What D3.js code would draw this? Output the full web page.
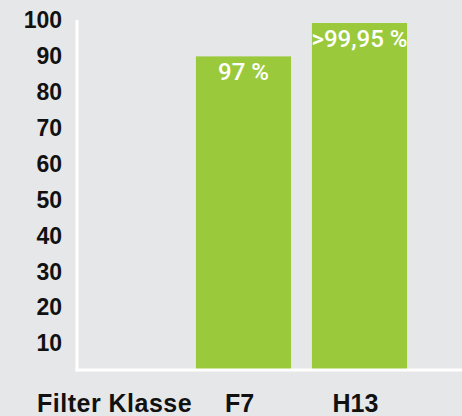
<!DOCTYPE html>
<html>
<head>
<meta charset="utf-8">
<script src="https://cdn.jsdelivr.net/npm/d3@7"></script>
<style>
  html, body { margin: 0; padding: 0; background: #e6e7e9; }
  svg { display: block; }
</style>
</head>
<body>
<script>
var categories = ["F7", "H13"];
var values = [90, 99.3];
var valueLabels = ["97 %", ">99,95 %"];
var yTicks = [10, 20, 30, 40, 50, 60, 70, 80, 90, 100];
var axisTitle = "Filter Klasse";

var width = 462;
var height = 416;
var plotLeft = 77;
var plotTop = 20;
var plotBottom = 370;

var svg = d3.select("body").append("svg")
    .attr("width", width)
    .attr("height", height);

svg.append("rect")
    .attr("width", width)
    .attr("height", height)
    .attr("fill", "#e6e7e9");

var x = d3.scaleBand()
    .domain(categories)
    .range([185.5, 417.5])
    .paddingInner(0.18)
    .paddingOuter(0.09);

var y = d3.scaleLinear()
    .domain([0, 100])
    .range([379.4, 20.5]);

// bars
svg.append("g")
  .selectAll("rect")
  .data(categories)
  .enter()
  .append("rect")
    .attr("x", d => x(d))
    .attr("width", x.bandwidth())
    .attr("y", (d, i) => y(values[i]))
    .attr("height", (d, i) => plotBottom - y(values[i]))
    .attr("fill", "#9aca3c");

// value labels inside bars
svg.append("g")
    .attr("text-anchor", "middle")
    .attr("font-family", "Roboto, 'Liberation Sans', sans-serif")
    .attr("font-size", 24)
    .attr("font-weight", 500)
    .attr("fill", "#ffffff")
  .selectAll("text")
  .data(categories)
  .enter()
  .append("text")
    .attr("x", d => x(d) + x.bandwidth() / 2)
    .attr("y", (d, i) => y(values[i]) + 24)
    .text((d, i) => valueLabels[i]);

// white axis lines
svg.append("line")
    .attr("x1", plotLeft).attr("x2", plotLeft)
    .attr("y1", plotTop).attr("y2", plotBottom + 1.5)
    .attr("stroke", "#ffffff")
    .attr("stroke-width", 3);

svg.append("line")
    .attr("x1", plotLeft - 1.5).attr("x2", width)
    .attr("y1", plotBottom).attr("y2", plotBottom)
    .attr("stroke", "#ffffff")
    .attr("stroke-width", 3);

// y axis labels
var yAxis = svg.append("g")
    .attr("transform", `translate(${plotLeft},0)`)
    .call(d3.axisLeft(y).tickValues(yTicks).tickSize(0).tickPadding(15));

yAxis.select(".domain").remove();
yAxis.selectAll("text")
    .attr("font-family", "'Liberation Sans', Arial, sans-serif")
    .attr("font-weight", "bold")
    .attr("font-size", 23)
    .attr("fill", "#111111");

// x labels
svg.append("g")
    .attr("font-family", "'Liberation Sans', Arial, sans-serif")
    .attr("font-weight", "bold")
    .attr("font-size", 25)
    .attr("fill", "#111111")
    .attr("text-anchor", "middle")
  .selectAll("text")
  .data(categories)
  .enter()
  .append("text")
    .attr("x", d => x(d) + x.bandwidth() / 2 - 4)
    .attr("y", 412)
    .text(d => d);

svg.append("text")
    .attr("x", 37)
    .attr("y", 412)
    .attr("font-family", "'Liberation Sans', Arial, sans-serif")
    .attr("font-weight", "bold")
    .attr("font-size", 25)
    .attr("letter-spacing", 0.5)
    .attr("fill", "#111111")
    .text(axisTitle);
</script>
</body>
</html>
